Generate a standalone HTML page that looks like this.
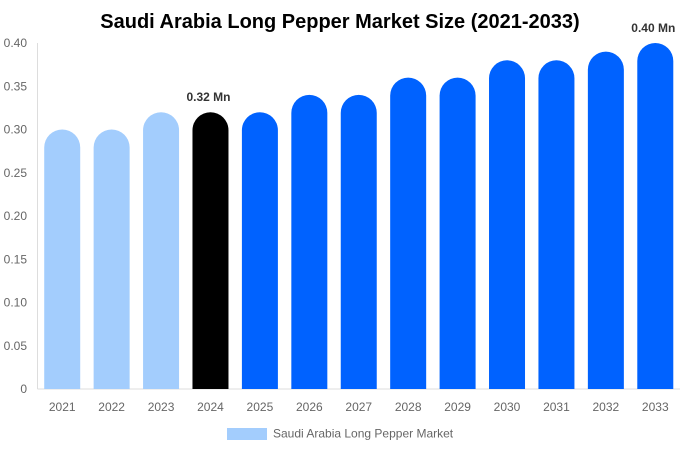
<!DOCTYPE html>
<html><head><meta charset="utf-8"><style>
body{margin:0;background:#fff;font-family:"Liberation Sans",sans-serif}
</style></head><body>
<svg id="chart" width="680" height="450" xmlns="http://www.w3.org/2000/svg">
<text x="340" y="28" text-anchor="middle" font-size="20" font-weight="bold" fill="#000">Saudi Arabia Long Pepper Market Size (2021-2033)</text>
<g id="axes"></g><g id="bars"></g>
<g>
<rect x="227" y="428" width="40" height="12" fill="#a3cdfd"/>
<text x="273" y="437.5" font-size="12" fill="#666">Saudi Arabia Long Pepper Market</text>
</g>
</svg>
<script>
const years=["2021","2022","2023","2024","2025","2026","2027","2028","2029","2030","2031","2032","2033"];
const values=[0.30,0.30,0.32,0.32,0.32,0.34,0.34,0.36,0.36,0.38,0.38,0.39,0.40];
const yTicks=[0,0.05,0.10,0.15,0.20,0.25,0.30,0.35,0.40];
const barLabels={"2024":"0.32 Mn","2033":"0.40 Mn"};
const NS="http://www.w3.org/2000/svg";
const x0=37.5,x1=680,yb=389,yt=43;
const band=(x1-x0)/years.length;
const y=v=>yb-(v/0.40)*(yb-yt);
const xc=i=>x0+band*(i+0.5);
const axes=document.getElementById('axes'),bars=document.getElementById('bars');
function mk(tag,attrs,parent){const e=document.createElementNS(NS,tag);for(const k in attrs)e.setAttribute(k,attrs[k]);parent.appendChild(e);return e;}
let ax=mk('line',{x1:x0,y1:yt,x2:x0,y2:yb,stroke:'#ddd'},axes);


let bx=mk('line',{x1:x0,y1:yb,x2:x1,y2:yb,stroke:'#ddd'},axes);


yTicks.forEach(t=>{
 const tx=mk('text',{x:27,y:y(t)+4,'text-anchor':'end','font-size':12,fill:'#666'},axes);
 tx.textContent=t===0?'0':t.toFixed(2);
 
 
});
years.forEach((yr,i)=>{
 const w=36,r=w/2,cx=xc(i),top=y(values[i]),l=cx-w/2;
 const fill=i<3?'#a3cdfd':(i===3?'#000':'#0062ff');
 const p=mk('path',{d:`M${l},${yb} L${l},${top+r} A${r},${r} 0 0 1 ${l+w},${top+r} L${l+w},${yb} Z`,fill:fill},bars);
 
 
 const t=mk('text',{x:cx,y:411,'text-anchor':'middle','font-size':12,fill:'#666'},axes);
 t.textContent=yr;
 
 
 if(barLabels[yr]){
  const lb=mk('text',{x:cx-2,y:top-11,'text-anchor':'middle','font-size':12,'font-weight':'bold',fill:'#333'},bars);
  lb.textContent=barLabels[yr];
  
  
 }
});
</script>
</body></html>
